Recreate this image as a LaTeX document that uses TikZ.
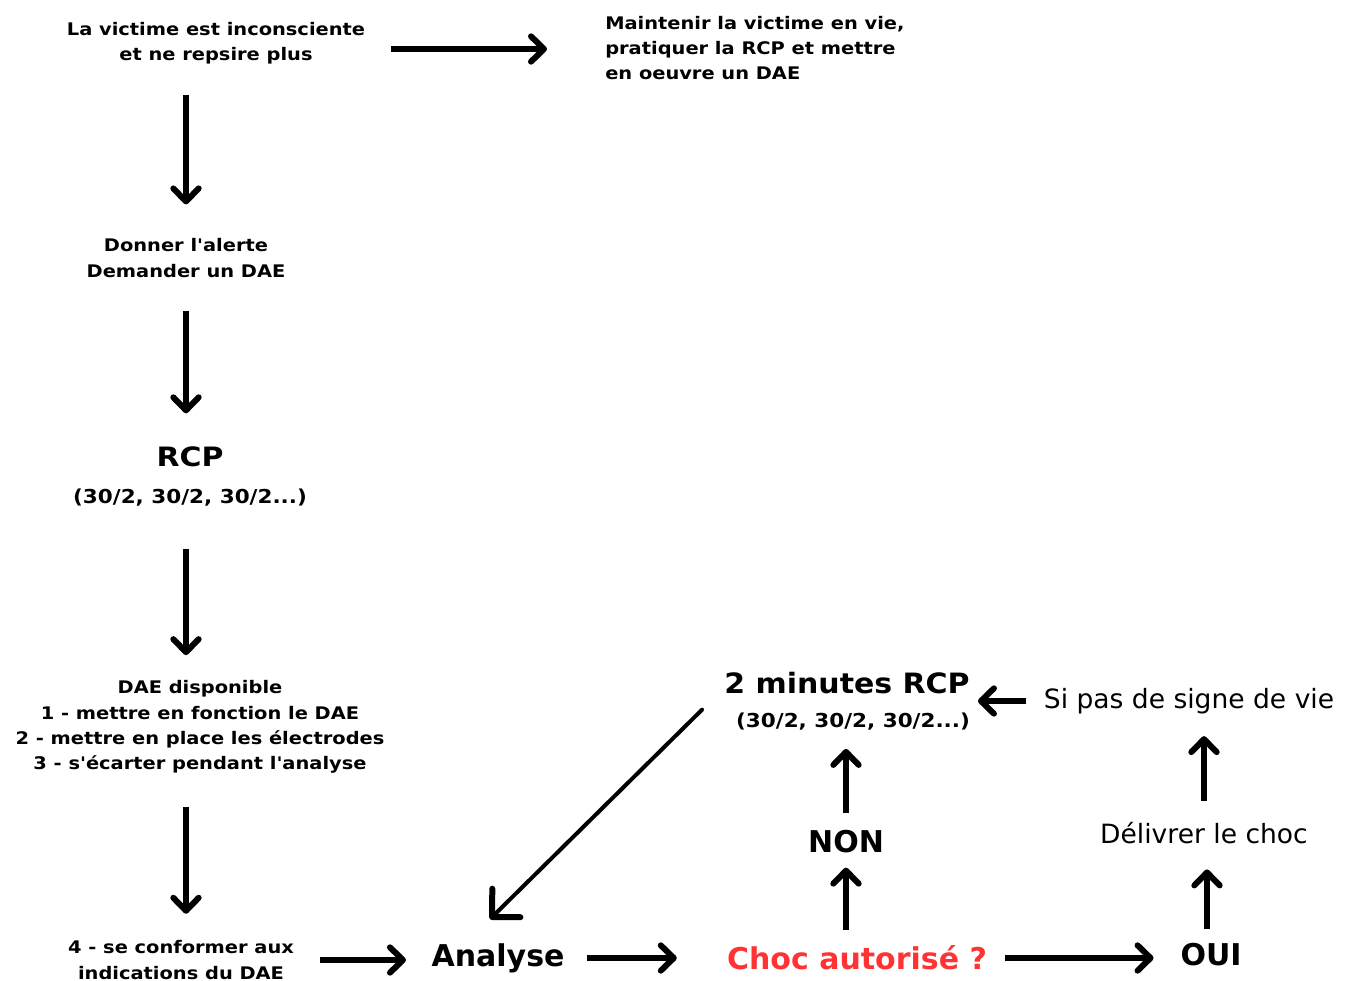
\documentclass[tikz,border=0pt]{standalone}
\usepackage{fontspec}
\usepackage{tikz}
\usetikzlibrary{arrows.meta, positioning}
\usepackage{xcolor}
\newfontfamily\verdfont[FakeStretch=1.12, Ligatures=TeXOff]{DejaVu Sans}
\newfontfamily\tahfont[Ligatures=TeXOff]{DejaVu Sans}
\newfontfamily\tahwidefont[FakeStretch=1.07, Ligatures=TeXOff]{DejaVu Sans}
\definecolor{chocred}{RGB}{255,51,51}
\tikzstyle{smalltext} = [inner sep=0pt, align=center, font=\verdfont\bfseries\fontsize{13}{18.9}\selectfont]
\tikzstyle{rcptext} = [inner sep=0pt, font=\verdfont\bfseries\fontsize{20}{24}\selectfont]
\tikzstyle{cycletext} = [inner sep=0pt, font=\verdfont\bfseries\fontsize{14.4}{17}\selectfont]
\tikzstyle{bigtext} = [inner sep=0pt, font=\tahfont\bfseries\fontsize{22.5}{27}\selectfont]
\tikzstyle{plaintext} = [inner sep=0pt, font=\tahfont\fontsize{19.9}{24}\selectfont]
\tikzstyle{arrow} = [line width=4.5pt, -{Straight Barb[round, length=9.75pt, width=19pt]}]
\tikzstyle{thinarrow} = [line width=3pt, -{Straight Barb[round, length=15pt, width=30pt, line width=4.5pt]}]

\begin{document}
\begin{tikzpicture}[x=0.75pt, y=-0.75pt]
\useasboundingbox (0,0) rectangle (1352,981);

% Left column
\node[smalltext] (victime) at (216,43) {La victime est inconsciente\\et ne repsire plus};
\node[smalltext, align=left, anchor=west] (maintenir) at (605,48) {Maintenir la victime en vie,\\pratiquer la RCP et mettre\\en oeuvre un DAE};
\node[smalltext] (alerte) at (186,258) {Donner l'alerte\\Demander un DAE};
\node[rcptext] (rcp) at (190,457) {RCP};
\node[cycletext] (rcpcycle) at (190,498) {(30/2, 30/2, 30/2...)};
\node[smalltext] (dae) at (200,727) {DAE disponible\\1 - mettre en fonction le DAE\\2 - mettre en place les électrodes\\3 - s'écarter pendant l'analyse};
\node[smalltext] (conformer) at (181,960) {4 - se conformer aux\\indications du DAE};

% Bottom row
\node[bigtext] (analyse) at (498,958) {Analyse};
\node[bigtext, text=chocred] (choc) at (857,958) {Choc autorisé ?};
\node[bigtext] (oui) at (1211,955) {OUI};

% Shock loop
\node[bigtext] (non) at (846,842) {NON};
\node[bigtext, font=\tahwidefont\bfseries\fontsize{21}{25}\selectfont] (minutes) at (847,683) {2 minutes RCP};
\node[cycletext] (minutescycle) at (853,722) {(30/2, 30/2, 30/2...)};
\node[plaintext] (delivrer) at (1204,833) {Délivrer le choc};
\node[plaintext] (signe) at (1189,701) {Si pas de signe de vie};

% Arrows - left column
\draw[arrow, shorten <=19.5pt, shorten >=43.5pt] ([yshift=-4.5pt]victime.east) -- ([yshift=-4.5pt]victime.east -| maintenir.west);
\draw[arrow, shorten <=23pt, shorten >=25.5pt] (victime.south -| alerte) -- (alerte.north);
\draw[arrow, shorten <=25pt, shorten >=25pt] (alerte.south) -- (alerte.south |- rcp.north);
\draw[arrow, shorten <=31.5pt, shorten >=19pt] (rcpcycle.south -| alerte) -- (dae.north -| alerte);
\draw[arrow, shorten <=25pt, shorten >=20pt] (dae.south -| alerte) -- (conformer.north -| alerte);

% Arrows - bottom row
\draw[arrow, shorten <=19.5pt, shorten >=19pt] (conformer.east) -- (conformer.east -| analyse.west);
\draw[arrow, shorten <=16.5pt, shorten >=37.5pt] (analyse.east) -- (analyse.east -| choc.west);
\draw[arrow, shorten <=13pt, shorten >=20pt] (choc.east) -- (choc.east -| oui.west);

% Arrows - shock loop
\draw[arrow, shorten <=10.5pt, shorten >=19pt] ([xshift=-3pt]oui.north) -- ([xshift=-3pt]oui.north |- delivrer.south);
\draw[arrow, shorten <=16pt, shorten >=16.5pt] (delivrer.north) -- (delivrer.north |- signe.south);
\draw[arrow, shorten <=13pt, shorten >=6pt] (signe.west) -- (signe.west -| minutes.east);
\draw[arrow, shorten <=12pt, shorten >=10.5pt] (choc.north -| non) -- (non.south);
\draw[arrow, shorten <=13pt, shorten >=13.5pt] (non.north) -- (non.north |- minutescycle.south);
\draw[thinarrow, line cap=round] ([xshift=-16.5pt, yshift=-20pt]minutes.west) -- ([xshift=44pt, yshift=18pt]analyse.north west);

\end{tikzpicture}
\end{document}
